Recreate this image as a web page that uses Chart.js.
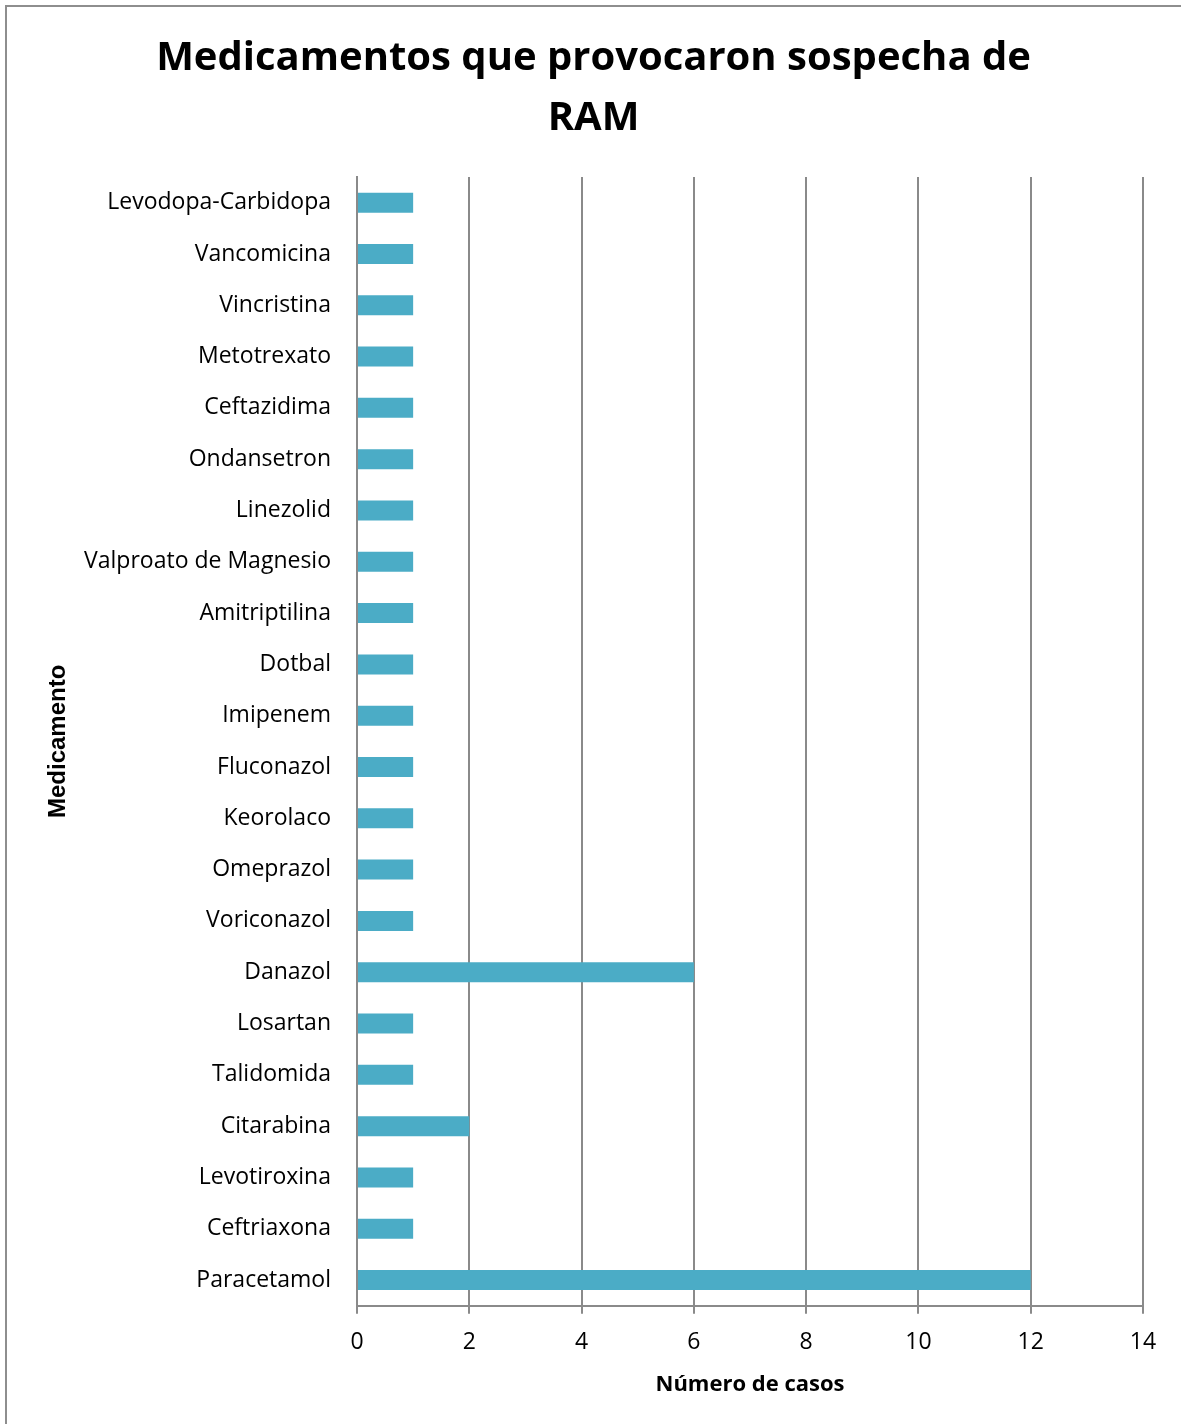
<!DOCTYPE html>
<html lang="es">
<head>
<meta charset="utf-8">
<title>Medicamentos que provocaron sospecha de RAM</title>
<script src="https://cdn.jsdelivr.net/npm/chart.js@4.4.1/dist/chart.umd.min.js"></script>
<style>
  html, body { margin: 0; padding: 0; background: #ffffff; overflow: hidden; }
  #frame {
    position: absolute; left: 5px; top: 5px; width: 1400px; height: 1600px;
    border-top: 2px solid #8e8e8e; border-left: 2px solid #8e8e8e;
  }
  #wrap { position: absolute; left: 0; top: 0; width: 1181px; height: 1424px; }
</style>
</head>
<body>
<div id="frame"></div>
<div id="wrap"><canvas id="chart" width="1181" height="1424"></canvas></div>
<script>
// Drugs, listed top to bottom as they appear on the category axis
const medicamentos = [
  'Levodopa-Carbidopa', 'Vancomicina', 'Vincristina', 'Metotrexato',
  'Ceftazidima', 'Ondansetron', 'Linezolid', 'Valproato de Magnesio',
  'Amitriptilina', 'Dotbal', 'Imipenem', 'Fluconazol', 'Keorolaco',
  'Omeprazol', 'Voriconazol', 'Danazol', 'Losartan', 'Talidomida',
  'Citarabina', 'Levotiroxina', 'Ceftriaxona', 'Paracetamol'
];

// Number of suspected adverse-reaction cases per drug
const casos = [
  1, 1, 1, 1,
  1, 1, 1, 1,
  1, 1, 1, 1, 1,
  1, 1, 6, 1, 1,
  2, 1, 1, 12
];

// Value axis range and step
const ejeMin = 0;
const ejeMax = 14;
const ejePaso = 2;

const tituloGrafico = ['Medicamentos que provocaron sospecha de', 'RAM'];
const tituloEjeX = 'Número de casos';
const tituloEjeY = 'Medicamento';

const GRID = '#8a8a8a';
const BAR = '#4bacc6';
const SANS = "'Open Sans', 'Liberation Sans', sans-serif";

new Chart(document.getElementById('chart'), {
  type: 'bar',
  data: {
    labels: medicamentos,
    datasets: [{
      data: casos,
      backgroundColor: BAR,
      borderWidth: 0,
      categoryPercentage: 1,
      barPercentage: 0.39
    }]
  },
  options: {
    indexAxis: 'y',
    responsive: false,
    animation: false,
    devicePixelRatio: 1,
    layout: { padding: { left: 44, right: 38, top: 0, bottom: 24.5 } },
    plugins: {
      legend: { display: false },
      tooltip: { enabled: false },
      title: {
        display: true,
        text: tituloGrafico,
        color: '#000000',
        font: { family: SANS, size: 40, weight: 'bold', lineHeight: 1.5 },
        padding: { top: 29, bottom: 28 }
      }
    },
    scales: {
      x: {
        min: ejeMin,
        max: ejeMax,
        ticks: {
          stepSize: ejePaso,
          color: '#000000',
          font: { family: SANS, size: 23 },
          padding: 15
        },
        grid: {
          color: GRID,
          lineWidth: 2,
          tickLength: 8,
          drawTicks: true
        },
        border: { display: true, color: GRID, width: 2 },
        title: {
          display: true,
          text: tituloEjeX,
          color: '#000000',
          font: { family: SANS, size: 22, weight: 'bold' },
          padding: { top: 0, bottom: 1.8 }
        }
      },
      y: {
        z: 1,
        ticks: {
          color: '#000000',
          font: { family: SANS, size: 23 },
          padding: 26
        },
        grid: { display: false, drawTicks: false },
        border: { display: true, color: GRID, width: 2 },
        title: {
          display: true,
          text: tituloEjeY,
          color: '#000000',
          font: { family: "'Liberation Sans', Arial, sans-serif", size: 24, weight: 'bold' },
          padding: 0
        },
        afterFit(scale) { scale.width = 313; }
      }
    }
  }
});
</script>
</body>
</html>
